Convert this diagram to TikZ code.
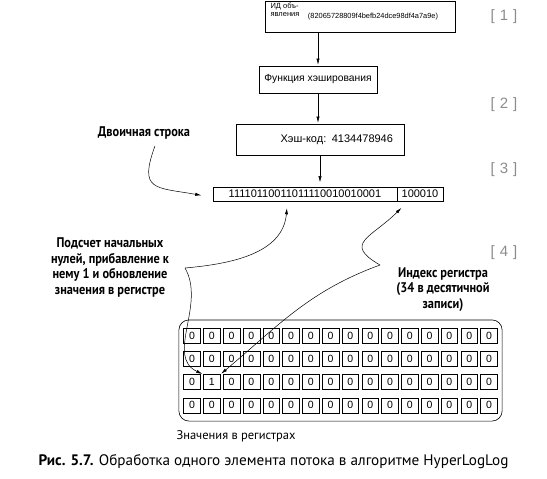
\documentclass[tikz,border=0pt]{standalone}
\usepackage{fontspec}
\setmainfont{Liberation Sans}
\newfontfamily\ptsans{PT Sans}
\newfontfamily\ptnarrow[FakeStretch=0.88]{PT Sans}
\usetikzlibrary{matrix,arrows.meta,shadows}

\tikzset{
	box/.style={draw,line width=.6pt,inner sep=0pt,font=\fontsize{10.3}{12}\selectfont},
	link/.style={-{Latex[length=6pt,width=3.2pt]},line width=.5pt,shorten >=1pt},
	stepno/.style={text=black!45,font=\fontsize{15}{17}\selectfont},
	remark/.style={align=center,font=\ptnarrow\bfseries\fontsize{14}{15.5}\selectfont},
	regcell/.style={draw,sharp corners,fill=white,line width=.5pt,minimum width=16.7pt,minimum height=15pt,inner sep=0pt,font=\fontsize{10.5}{11}\selectfont,drop shadow={shadow xshift=.7pt,shadow yshift=-.7pt,opacity=.9}}
}

\begin{document}
\begin{tikzpicture}[x=1pt,y=1pt]
				\useasboundingbox (0,0) rectangle (547,-479);
				\node[box,minimum width=190pt,minimum height=31pt] (idbox) at (360,-16.5) {};
				\node[align=left,inner sep=0pt,font=\fontsize{7.5}{8.5}\selectfont] (idlbl) at (285,-10) {ИД объ-\\явления};
				\node[inner sep=0pt,font=\fontsize{7.4}{10}\selectfont] (idval) at (373,-17) {(82065728809f4befb24dce98df4a7a9e)};
				\node[box,minimum width=118pt,minimum height=27pt] (func) at (318,-79.5) {Функция хэширования};
				\node[box,minimum height=31pt,text width=146pt,inner xsep=11pt,align=right,font=\fontsize{11}{13}\selectfont] (hash) at (320,-139.5) {Хэш-код: 4134478946};
				\matrix[matrix of nodes,column sep=-.5pt,nodes={draw,line width=.5pt,minimum height=14pt,inner sep=0pt,font=\fontsize{11}{12}\selectfont}] (bin) at (328,-194) {
					|[minimum width=184pt]| 11110110011011110010010001 & |[minimum width=46pt]| 100010 \\
				};
				\draw[link] (func.north |- idbox.south) -- (func.north);
				\draw[link] (func.south) -- (func.south |- hash.north);
				\draw[link] (hash.south) -- (hash.south |- bin.north);
				\foreach \n/\y in {1/17,2/105,3/170,4/253}
					\node[stepno] (step\n) at (504,-\y) {[\hspace{5pt}\n\hspace{5pt}]};
				\node[remark] (binlbl) at (144,-133) {Двоичная строка};
				\node[remark] (cntlbl) at (110,-267.5) {Подсчет начальных\\нулей, прибавление к\\нему 1 и обновление\\значения в регистре};
				\node[remark] (idxlbl) at (443,-289.5) {Индекс регистра\\(34 в десятичной\\записи)};
				\matrix[matrix of nodes,draw,line width=.6pt,rounded corners=10pt,inner xsep=4.5pt,inner ysep=8pt,column sep=2.6pt,row sep=7.7pt,nodes={regcell}] (reg) at (340.5,-370.5) {
					0 & 0 & 0 & 0 & 0 & 0 & 0 & 0 & 0 & 0 & 0 & 0 & 0 & 0 & 0 & 0 \\
					0 & 0 & 0 & 0 & 0 & 0 & 0 & 0 & 0 & 0 & 0 & 0 & 0 & 0 & 0 & 0 \\
					0 & 1 & 0 & 0 & 0 & 0 & 0 & 0 & 0 & 0 & 0 & 0 & 0 & 0 & 0 & 0 \\
					0 & 0 & 0 & 0 & 0 & 0 & 0 & 0 & 0 & 0 & 0 & 0 & 0 & 0 & 0 & 0 \\
				};
				\coordinate (cntfork) at (185,-268);
				\coordinate (idxfork) at (380,-265);
				\draw[link] ([xshift=11pt,yshift=-3pt]binlbl.south) to[out=-110,in=170,looseness=1.8] ([xshift=-7pt,yshift=-1.5pt]bin.west);
				\draw[link] (cntfork) to[out=5,in=-95] ([xshift=-18pt,yshift=-6pt]bin-1-1.south);
				\draw[link] (cntfork) to[out=-60,in=155] (reg-3-2.north west);
				\draw[link] (idxfork) to[out=150,in=-135,looseness=1.8] ([xshift=-18pt,yshift=-6pt]bin-1-2.south);
				\draw[link] (idxfork) to[out=200,in=40] (reg-3-2.north east);
				\node[font=\ptsans\fontsize{12.5}{14}\selectfont] (regcap) at (236,-436) {Значения в регистрах};
				\node[font=\ptsans\fontsize{15.2}{17}\selectfont] (figcap) at (273.5,-462) {\textbf{Рис. 5.7.} Обработка одного элемента потока в алгоритме HyperLogLog};
			\end{tikzpicture}
\end{document}
